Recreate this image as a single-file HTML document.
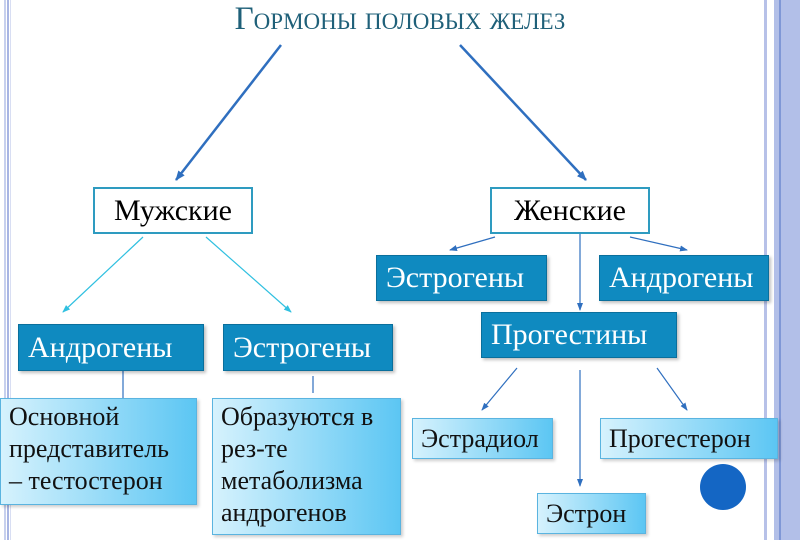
<!DOCTYPE html>
<html><head><meta charset="utf-8"><style>
body{margin:0;width:800px;height:540px;overflow:hidden;background:#fff;position:relative;font-family:"Liberation Serif","DejaVu Serif",serif}
.b{position:absolute;box-sizing:border-box;display:flex;align-items:center;font-size:30px;white-space:nowrap}
.w{background:#fff;border:2px solid #2e9bc0;justify-content:center;color:#000}
.d{background:#0f8ac0;border:1px solid #0a6f9c;color:#fff;padding-left:9px;box-shadow:2px 2px 3px rgba(0,0,0,.25)}
.l{background:linear-gradient(90deg,#d6f2fd,#5cc6f3);border:1px solid #5ab4e0;color:#111;padding-left:8px;box-shadow:2px 2px 3px rgba(0,0,0,.2);font-size:26px;line-height:32px;align-items:flex-start}
</style></head><body>
<div style="position:absolute;left:4px;top:0;width:2px;height:540px;background:#c7d0ee"></div>
<div style="position:absolute;left:7px;top:0;width:2px;height:540px;background:#a8b5e3"></div>
<div style="position:absolute;left:10px;top:0;width:1px;height:540px;background:#d8def3"></div>
<div style="position:absolute;left:764px;top:0;width:3px;height:540px;background:#b7c1e8"></div>
<div style="position:absolute;left:774px;top:0;width:26px;height:540px;background:#b2bfe8"></div>
<div style="position:absolute;left:779px;top:0;width:2px;height:540px;background:#7f97d6"></div>
<div style="position:absolute;left:0;top:1px;width:800px;text-align:center;font-size:33px;font-variant:small-caps;color:#1f6079">Гормоны половых желез</div>
<svg width="800" height="540" style="position:absolute;left:0;top:0">
<defs>
<marker id="a" markerUnits="userSpaceOnUse" markerWidth="10" markerHeight="10" refX="9" refY="5" orient="auto"><path d="M0,1L10,5L0,9z" fill="#2f6fbf"/></marker>
<marker id="s" markerUnits="userSpaceOnUse" markerWidth="8" markerHeight="8" refX="7" refY="4" orient="auto"><path d="M0,1L8,4L0,7z" fill="#2f6fbf"/></marker>
<marker id="c" markerUnits="userSpaceOnUse" markerWidth="8" markerHeight="8" refX="7" refY="4" orient="auto"><path d="M0,1L8,4L0,7z" fill="#30c0e0"/></marker>
</defs>
<g stroke="#2f6fbf" stroke-width="2.5"><line x1="281" y1="45" x2="176" y2="180" marker-end="url(#a)"/><line x1="460" y1="45" x2="586" y2="180" marker-end="url(#a)"/></g>
<g stroke="#30c0e0" stroke-width="1.2"><line x1="143" y1="237" x2="63" y2="312" marker-end="url(#c)"/><line x1="206" y1="237" x2="291" y2="312" marker-end="url(#c)"/></g>
<g stroke="#2f6fbf" stroke-width="1.2">
<line x1="495" y1="237" x2="450" y2="250" marker-end="url(#s)"/><line x1="630" y1="237" x2="687" y2="250" marker-end="url(#s)"/><line x1="580" y1="233" x2="580" y2="310" marker-end="url(#s)"/>
<line x1="517" y1="368" x2="482" y2="410" marker-end="url(#s)"/><line x1="580" y1="370" x2="580" y2="486" marker-end="url(#s)"/><line x1="657" y1="368" x2="687" y2="410" marker-end="url(#s)"/>
<line x1="123" y1="370" x2="123" y2="398"/><line x1="313" y1="376" x2="313" y2="393"/></g>
</svg>
<div class="b w" style="left:93px;top:187px;width:160px;height:47px">Мужские</div>
<div class="b w" style="left:490px;top:187px;width:160px;height:47px">Женские</div>
<div class="b d" style="left:376px;top:255px;width:171px;height:46px">Эстрогены</div>
<div class="b d" style="left:599px;top:255px;width:170px;height:46px">Андрогены</div>
<div class="b d" style="left:481px;top:312px;width:196px;height:46px">Прогестины</div>
<div class="b d" style="left:18px;top:324px;width:186px;height:47px">Андрогены</div>
<div class="b d" style="left:223px;top:324px;width:170px;height:47px">Эстрогены</div>
<div class="b l" style="left:0;top:398px;width:197px;height:107px;padding-top:2px">Основной<br>представитель<br>– тестостерон</div>
<div class="b l" style="left:212px;top:398px;width:189px;height:137px;padding-top:2px">Образуются в<br>рез-те<br>метаболизма<br>андрогенов</div>
<div class="b l" style="left:412px;top:418px;width:141px;height:41px;align-items:center">Эстрадиол</div>
<div class="b l" style="left:600px;top:418px;width:178px;height:41px;align-items:center">Прогестерон</div>
<div class="b l" style="left:537px;top:493px;width:109px;height:41px;align-items:center">Эстрон</div>
<div style="position:absolute;left:700px;top:464px;width:46px;height:46px;border-radius:50%;background:#1466c4"></div>
</body></html>
